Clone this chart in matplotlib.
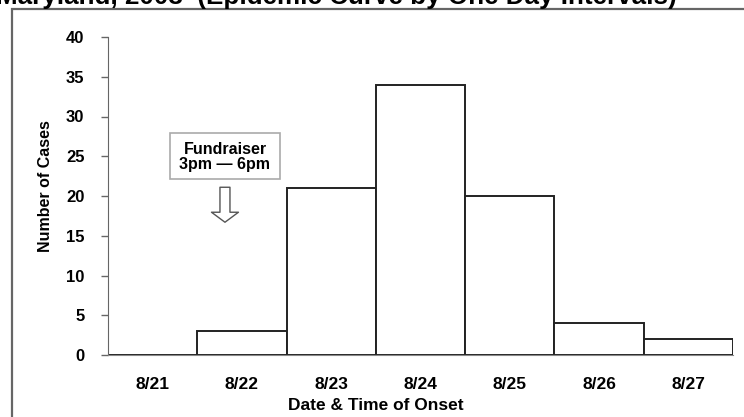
"""Epidemic curve by one day intervals, recreated."""
import matplotlib
matplotlib.use("Agg")
import matplotlib.pyplot as plt
from matplotlib.patches import Rectangle

plt.rcParams["font.family"] = ["Liberation Sans", "DejaVu Sans"]
plt.rcParams["font.weight"] = "bold"

# ── data ──
dates = ["8/21", "8/22", "8/23", "8/24", "8/25", "8/26", "8/27"]
cases = [0, 3, 21, 34, 20, 4, 2]
y_ticks = [0, 5, 10, 15, 20, 25, 30, 35, 40]
title = "Maryland, 2003  (Epidemic Curve by One Day Intervals)"
event_label = "Fundraiser\n3pm \u2014 6pm"
event_x = 1.31

W, H = 744, 417
fig = plt.figure(figsize=(W / 100, H / 100), dpi=100)
fig.patch.set_facecolor("white")

# outer frame (cut off at right and bottom)
fig.patches.append(Rectangle((12 / W, -0.2), 1.2, 1 - 9 / H + 0.2,
                             transform=fig.transFigure, fill=False,
                             ec="#666666", lw=1.6, zorder=0))
fig.text(677 / W, 1 - 4 / H, title, fontsize=18.7, fontweight="bold",
         ha="right", va="baseline")

ax = fig.add_axes([108 / W, 1 - 355 / H, 625 / W, (355 - 37) / H])
x = range(len(dates))
ax.bar(x, cases, width=1.0, align="edge", color="white",
       edgecolor="#222222", linewidth=1.4)

ax.set_xlim(0, len(dates))
ax.set_ylim(0, 40)
ax.set_yticks(y_ticks)
ax.set_xticks([i + 0.5 for i in x])
ax.set_xticklabels(dates)
ax.tick_params(axis="x", length=0, pad=16, labelsize=12.5)
ax.tick_params(axis="y", length=5, width=1, color="#666666", pad=12,
               labelsize=12)
for s in ["top", "right"]:
    ax.spines[s].set_visible(False)
ax.spines["left"].set_color("#666666")
ax.spines["bottom"].set_color("#888888")
ax.set_facecolor("white")

ax.set_ylabel("Number of Cases", fontsize=11.5, fontweight="bold")
ax.yaxis.set_label_coords(-63 / 625, (355 - 186) / 318)
ax.set_xlabel("Date & Time of Onset", fontsize=12.5, fontweight="bold")
ax.xaxis.set_label_coords((376 - 108) / 625, -(405 - 355) / 318)
ax.xaxis.label.set_va("center")
ax.yaxis.label.set_va("center")

# event annotation
ax.add_patch(Rectangle((0.694, 22.1), 1.232, 5.8, fc="white", ec="#aaaaaa",
                       lw=1.2, zorder=3))
ax.text(event_x, 24.9, event_label, ha="center", va="center", fontsize=11.5,
        fontweight="bold", linespacing=0.95, zorder=4)
ax.annotate("", xy=(event_x, 16.7), xytext=(event_x, 21.1),
            arrowprops=dict(arrowstyle="simple,head_width=0.97,head_length=0.36,tail_width=0.36",
                            fc="white", ec="#555555", lw=1, mutation_scale=20,
                            shrinkA=0, shrinkB=0))

fig.savefig("out.png", dpi=100)
